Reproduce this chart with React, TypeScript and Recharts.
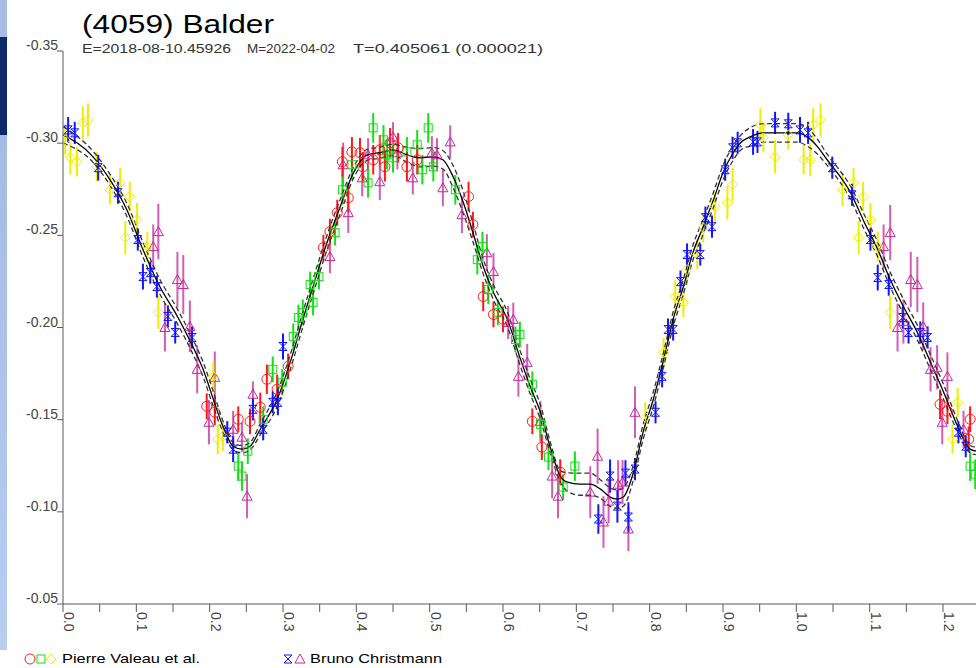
import React from 'react';
import { ComposedChart, Line, Scatter, ErrorBar, XAxis, YAxis } from 'recharts';

// [phase, reduced magnitude, error]
type Obs = [number, number, number];

const FONT = '"Liberation Sans", Arial, sans-serif';

const RED = '#ff1a1a';
const GREEN = '#14e014';
const YELLOW = '#eeee00';
const MAGENTA = '#c4279a';
const BLUE = '#1414ff';

const xTicks = [0, 0.05, 0.1, 0.15, 0.2, 0.25, 0.3, 0.35, 0.4, 0.45, 0.5, 0.55, 0.6, 0.65, 0.7, 0.75, 0.8, 0.85, 0.9, 0.95, 1.0, 1.05, 1.1, 1.15, 1.2];
const yTicks = [-0.35, -0.3, -0.25, -0.2, -0.15, -0.1, -0.05];

// Pierre Valeau et al. (three sessions)
const valeauCircles: Obs[] = [
  [0.196, -0.1573, 0.007], [0.207, -0.154, 0.007], [0.239, -0.1502, 0.007], [0.255, -0.1491, 0.007],
  [0.269, -0.1567, 0.008], [0.278, -0.1719, 0.008], [0.292, -0.1665, 0.008], [0.307, -0.1789, 0.007],
  [0.355, -0.2433, 0.007], [0.364, -0.252, 0.007], [0.374, -0.2623, 0.007], [0.381, -0.2899, 0.008],
  [0.389, -0.2704, 0.008], [0.394, -0.2953, 0.008], [0.405, -0.2948, 0.008], [0.409, -0.2872, 0.008],
  [0.423, -0.291, 0.008], [0.432, -0.2964, 0.008], [0.439, -0.2872, 0.008], [0.446, -0.3002, 0.008],
  [0.457, -0.2975, 0.008], [0.469, -0.2872, 0.008], [0.483, -0.291, 0.008], [0.553, -0.271, 0.008],
  [0.559, -0.2558, 0.007], [0.573, -0.2168, 0.008], [0.587, -0.2071, 0.007], [0.6, -0.2044, 0.007],
  [0.64, -0.1491, 0.007], [0.653, -0.1351, 0.007], [0.678, -0.1215, 0.007],
  [1.196, -0.1583, 0.008], [1.206, -0.1546, 0.007], [1.237, -0.1502, 0.007], [1.235, -0.1394, 0.007],
];

const valeauSquares: Obs[] = [
  [0.244, -0.1194, 0.008], [0.239, -0.1248, 0.008], [0.252, -0.1329, 0.007], [0.273, -0.1502, 0.007],
  [0.286, -0.1773, 0.007], [0.299, -0.1703, 0.007], [0.314, -0.1952, 0.007], [0.321, -0.2054, 0.007],
  [0.327, -0.2082, 0.007], [0.337, -0.2233, 0.007], [0.341, -0.2136, 0.007], [0.349, -0.2276, 0.007],
  [0.371, -0.2515, 0.007], [0.381, -0.2747, 0.008], [0.394, -0.2883, 0.008], [0.416, -0.2785, 0.008],
  [0.423, -0.3083, 0.008], [0.437, -0.3018, 0.008], [0.442, -0.2937, 0.008], [0.45, -0.2921, 0.008],
  [0.469, -0.2953, 0.008], [0.483, -0.2991, 0.008], [0.49, -0.2856, 0.008], [0.498, -0.3083, 0.008],
  [0.505, -0.2872, 0.008], [0.535, -0.2747, 0.008], [0.565, -0.2368, 0.008], [0.572, -0.2439, 0.008],
  [0.58, -0.2206, 0.008], [0.593, -0.2082, 0.007], [0.617, -0.1935, 0.007], [0.623, -0.1962, 0.007],
  [0.64, -0.1692, 0.007], [0.651, -0.1475, 0.007], [0.662, -0.1297, 0.007], [0.682, -0.1134, 0.007],
  [0.698, -0.1248, 0.008], [1.237, -0.1248, 0.008], [1.244, -0.1204, 0.008],
];

const valeauDiamonds: Obs[] = [
  [0.003, -0.3018, 0.008], [0.01, -0.2921, 0.009], [0.019, -0.2899, 0.008], [0.027, -0.311, 0.009],
  [0.034, -0.3126, 0.009], [0.046, -0.2872, 0.008], [0.064, -0.2747, 0.008], [0.078, -0.2785, 0.008],
  [0.091, -0.271, 0.008], [0.101, -0.2585, 0.009], [0.085, -0.2488, 0.009], [0.115, -0.2439, 0.008],
  [0.13, -0.2082, 0.009], [0.205, -0.1735, 0.008], [0.218, -0.141, 0.008], [0.211, -0.1394, 0.008],
  [0.794, -0.1513, 0.008], [0.819, -0.1865, 0.008], [0.835, -0.2168, 0.009], [0.846, -0.2136, 0.008],
  [0.851, -0.2314, 0.008], [0.865, -0.2396, 0.008], [0.873, -0.2542, 0.008], [0.889, -0.2655, 0.008],
  [0.906, -0.2677, 0.009], [0.913, -0.2775, 0.009], [0.951, -0.3099, 0.009], [0.955, -0.3029, 0.008],
  [0.971, -0.2926, 0.009], [0.989, -0.3045, 0.008], [1.01, -0.291, 0.008], [1.019, -0.291, 0.009],
  [1.023, -0.3099, 0.009], [1.033, -0.3126, 0.009], [1.063, -0.2747, 0.009], [1.078, -0.2785, 0.008],
  [1.091, -0.271, 0.008], [1.101, -0.2585, 0.009], [1.085, -0.2488, 0.009], [1.111, -0.2439, 0.008],
  [1.128, -0.2082, 0.009], [1.213, -0.1394, 0.008], [1.22, -0.1594, 0.008],
];

// Bruno Christmann (two sessions)
const christmannStars: Obs[] = [
  [0.007, -0.3072, 0.007], [0.016, -0.3056, 0.006], [0.048, -0.2867, 0.007], [0.075, -0.2731, 0.006],
  [0.102, -0.2477, 0.006], [0.109, -0.2276, 0.007], [0.119, -0.2298, 0.006], [0.128, -0.2222, 0.006],
  [0.143, -0.206, 0.006], [0.153, -0.1973, 0.006], [0.176, -0.1946, 0.006], [0.224, -0.1432, 0.006],
  [0.232, -0.134, 0.007], [0.259, -0.1556, 0.006], [0.273, -0.1448, 0.006], [0.286, -0.1594, 0.006],
  [0.293, -0.1594, 0.007], [0.3, -0.1897, 0.007],
  [0.73, -0.0961, 0.008], [0.746, -0.1194, 0.009], [0.756, -0.1031, 0.009], [0.767, -0.121, 0.007],
  [0.771, -0.0972, 0.008], [0.78, -0.1232, 0.006], [0.808, -0.154, 0.006], [0.817, -0.1735, 0.006],
  [0.825, -0.1989, 0.006], [0.832, -0.1989, 0.006], [0.842, -0.2249, 0.006], [0.851, -0.2396, 0.006],
  [0.869, -0.2396, 0.006], [0.876, -0.2596, 0.006], [0.885, -0.2547, 0.006], [0.903, -0.2856, 0.006],
  [0.913, -0.2975, 0.006], [0.92, -0.3002, 0.006], [0.941, -0.3007, 0.007], [0.947, -0.3007, 0.006],
  [0.971, -0.311, 0.006], [0.989, -0.3105, 0.006], [1.005, -0.3072, 0.007], [1.016, -0.3056, 0.006],
  [1.049, -0.2867, 0.006], [1.076, -0.272, 0.006], [1.101, -0.2477, 0.006], [1.111, -0.2271, 0.007],
  [1.126, -0.2233, 0.006], [1.145, -0.2054, 0.006], [1.153, -0.1973, 0.006], [1.169, -0.1973, 0.006],
  [1.179, -0.1946, 0.006], [1.221, -0.1432, 0.006], [1.231, -0.1356, 0.006],
];

const christmannTriangles: Obs[] = [
  [0.13, -0.252, 0.015], [0.123, -0.2439, 0.012], [0.156, -0.226, 0.015], [0.164, -0.2233, 0.016],
  [0.139, -0.2, 0.013], [0.173, -0.2006, 0.014], [0.183, -0.1773, 0.013], [0.207, -0.173, 0.014],
  [0.199, -0.1486, 0.012], [0.244, -0.1405, 0.008], [0.232, -0.1448, 0.01], [0.259, -0.1638, 0.007],
  [0.251, -0.1085, 0.012], [0.364, -0.2385, 0.009], [0.382, -0.2883, 0.012], [0.389, -0.2623, 0.011],
  [0.408, -0.2812, 0.01], [0.416, -0.2937, 0.009], [0.432, -0.2791, 0.01], [0.45, -0.3034, 0.008],
  [0.456, -0.2948, 0.009], [0.477, -0.2812, 0.009], [0.503, -0.2948, 0.009], [0.51, -0.2937, 0.009],
  [0.518, -0.2758, 0.01], [0.528, -0.3007, 0.009], [0.544, -0.2612, 0.01], [0.578, -0.2406, 0.01],
  [0.587, -0.2304, 0.01], [0.607, -0.2027, 0.009], [0.614, -0.2044, 0.009], [0.621, -0.1735, 0.011],
  [0.633, -0.1811, 0.01], [0.651, -0.1491, 0.011], [0.667, -0.1194, 0.012], [0.675, -0.1085, 0.012],
  [0.719, -0.1107, 0.014], [0.729, -0.1302, 0.015], [0.737, -0.0945, 0.014], [0.744, -0.1058, 0.012],
  [0.757, -0.115, 0.013], [0.763, -0.1161, 0.012], [0.771, -0.0907, 0.012], [0.78, -0.154, 0.014],
  [1.128, -0.2515, 0.015], [1.119, -0.2439, 0.012], [1.156, -0.226, 0.015], [1.165, -0.2233, 0.015],
  [1.138, -0.2, 0.013], [1.146, -0.2033, 0.012], [1.173, -0.2006, 0.013], [1.183, -0.1773, 0.012],
  [1.192, -0.1784, 0.012], [1.206, -0.1735, 0.013], [1.199, -0.1486, 0.012], [1.228, -0.1448, 0.01],
];

// Fourier fit and its uncertainty envelope
const fitPhase = [
  0, 0.041, 0.064, 0.087, 0.109, 0.132, 0.156, 0.177, 0.191, 0.205, 0.218, 0.232, 0.244, 0.255, 0.269,
  0.292, 0.314, 0.323, 0.341, 0.36, 0.378, 0.396, 0.415, 0.432, 0.45, 0.469, 0.487, 0.505, 0.518, 0.532,
  0.546, 0.559, 0.573, 0.587, 0.606, 0.623, 0.637, 0.651, 0.664, 0.678, 0.688, 0.705, 0.719, 0.733, 0.746,
  0.756, 0.764, 0.778, 0.791, 0.805, 0.819, 0.832, 0.846, 0.859, 0.873, 0.887, 0.9, 0.914, 0.924, 0.937,
  0.955, 0.978, 1.001, 1.015, 1.029, 1.042, 1.056, 1.074, 1.091, 1.111, 1.128, 1.146, 1.165, 1.183, 1.201,
  1.22, 1.237, 1.245,
];
const fitMag = [
  -0.3045, -0.2926, -0.2802, -0.2639, -0.2423, -0.2222, -0.206, -0.1897, -0.1773, -0.1611, -0.1464, -0.1356, -0.134, -0.1356, -0.1448,
  -0.1611, -0.1865, -0.1989, -0.2222, -0.2461, -0.2655, -0.2839, -0.2937, -0.2948, -0.2964, -0.2937, -0.2921, -0.2926, -0.291, -0.2818,
  -0.2677, -0.2515, -0.2331, -0.219, -0.2044, -0.1838, -0.1681, -0.154, -0.1356, -0.1194, -0.1161, -0.115, -0.115, -0.1123, -0.108,
  -0.1069, -0.108, -0.1215, -0.1432, -0.1611, -0.1827, -0.2044, -0.2222, -0.2406, -0.2547, -0.2693, -0.2839, -0.2948, -0.3002, -0.3034,
  -0.3056, -0.3056, -0.3056, -0.3034, -0.298, -0.291, -0.2839, -0.2731, -0.2585, -0.2423, -0.226, -0.2114, -0.1973, -0.1811, -0.1648,
  -0.1464, -0.134, -0.133,
];
const upperMag = [
  -0.309, -0.2956, -0.2832, -0.2674, -0.2463, -0.2262, -0.21, -0.1937, -0.1813, -0.1651, -0.1494, -0.1376, -0.136, -0.1376, -0.1478,
  -0.1651, -0.1905, -0.2029, -0.2262, -0.2501, -0.2695, -0.2869, -0.2967, -0.2978, -0.2994, -0.2977, -0.2971, -0.2976, -0.296, -0.2878,
  -0.2737, -0.2565, -0.2371, -0.223, -0.2084, -0.1878, -0.1721, -0.158, -0.1386, -0.1224, -0.1211, -0.121, -0.121, -0.1173, -0.113,
  -0.1119, -0.113, -0.1255, -0.1472, -0.1651, -0.1867, -0.2084, -0.2262, -0.2446, -0.2587, -0.2733, -0.2879, -0.2988, -0.3042, -0.3084,
  -0.3106, -0.3106, -0.3106, -0.3084, -0.302, -0.294, -0.2869, -0.2766, -0.2625, -0.2463, -0.23, -0.2154, -0.2013, -0.1851, -0.1688,
  -0.1494, -0.136, -0.135,
];
const lowerMag = [
  -0.3, -0.2896, -0.2772, -0.2604, -0.2383, -0.2182, -0.202, -0.1857, -0.1733, -0.1571, -0.1434, -0.1336, -0.132, -0.1336, -0.1418,
  -0.1571, -0.1825, -0.1949, -0.2182, -0.2421, -0.2615, -0.2809, -0.2907, -0.2918, -0.2934, -0.2897, -0.2871, -0.2876, -0.286, -0.2758,
  -0.2617, -0.2465, -0.2291, -0.215, -0.2004, -0.1798, -0.1641, -0.15, -0.1326, -0.1164, -0.1111, -0.109, -0.109, -0.1073, -0.103,
  -0.1019, -0.103, -0.1175, -0.1392, -0.1571, -0.1787, -0.2004, -0.2182, -0.2366, -0.2507, -0.2653, -0.2799, -0.2908, -0.2962, -0.2984,
  -0.3006, -0.3006, -0.3006, -0.2984, -0.294, -0.288, -0.2809, -0.2696, -0.2545, -0.2383, -0.222, -0.2074, -0.1933, -0.1771, -0.1608,
  -0.1434, -0.132, -0.131,
];

const toRows = (obs: Obs[]) => obs.map(([phase, mag, err]) => ({ phase, mag, err }));

const fitRows = fitPhase.map((phase, i) => ({
  phase,
  fit: fitMag[i],
  upper: upperMag[i],
  lower: lowerMag[i],
}));

// marker shapes
const CircleMark = ({ cx, cy }: any) => <circle cx={cx} cy={cy} r={5} fill="none" stroke={RED} strokeWidth={1} />;
const SquareMark = ({ cx, cy }: any) => (
  <rect x={cx - 4} y={cy - 4} width={8} height={8} fill="none" stroke={GREEN} strokeWidth={1} />
);
const DiamondMark = ({ cx, cy }: any) => (
  <path d={`M${cx},${cy - 5}L${cx + 5},${cy}L${cx},${cy + 5}L${cx - 5},${cy}Z`} fill="none" stroke={YELLOW} strokeWidth={1} />
);
const TriangleMark = ({ cx, cy }: any) => (
  <path d={`M${cx},${cy - 5}L${cx + 5},${cy + 4}L${cx - 5},${cy + 4}Z`} fill="none" stroke={MAGENTA} strokeWidth={1} />
);
const StarMark = ({ cx, cy }: any) => (
  <path d={`M${cx - 4},${cy - 4}H${cx + 4}L${cx - 4},${cy + 4}H${cx + 4}Z`} fill="none" stroke={BLUE} strokeWidth={1} />
);

const YTick = ({ x, y, payload }: any) => (
  <text x={x + 3} y={y - 1} textAnchor="end" fontSize={14} fill="#444" fontFamily={FONT}>
    {payload.value.toFixed(2)}
  </text>
);

const XTick = ({ x, y, payload }: any) => {
  const v = payload.value;
  if (Math.round(v * 100) % 10 !== 0) return <g />;
  return (
    <text transform={`translate(${x + 1},${y - 2}) rotate(90)`} fontSize={14} fill="#444" fontFamily={FONT}>
      {v.toFixed(1)}
    </text>
  );
};

export default function App() {
  return (
    <div style={{ position: 'absolute', left: 0, top: 0, width: 976, height: 668, background: '#fff', overflow: 'hidden' }}>
      {/* window edge on the left */}
      <div style={{ position: 'absolute', left: 0, top: 0, width: 7, height: 37, background: '#a7bde6' }} />
      <div style={{ position: 'absolute', left: 0, top: 37, width: 7, height: 98, background: '#0c2a6a' }} />
      <div style={{ position: 'absolute', left: 0, top: 135, width: 7, height: 515, background: 'linear-gradient(#a4bbe6, #b9cdef)' }} />

      <ComposedChart
        width={976}
        height={668}
        data={fitRows}
        margin={{ top: 51, right: 0, bottom: 0, left: 0 }}
        style={{ position: 'absolute', left: 0, top: 0 }}
      >
        <XAxis
          type="number"
          dataKey="phase"
          domain={[0, 1.245]}
          ticks={xTicks}
          allowDataOverflow
          height={64}
          tickSize={8}
          stroke="#5a5a5a"
          tick={<XTick />}
          interval={0}
        />
        <YAxis
          type="number"
          domain={[-0.35, -0.05]}
          reversed
          ticks={yTicks}
          allowDataOverflow
          width={63}
          tickSize={6}
          stroke="#5a5a5a"
          tick={<YTick />}
          interval={0}
        />

        <Scatter data={toRows(christmannTriangles)} dataKey="mag" shape={<TriangleMark />} isAnimationActive={false}>
          <ErrorBar dataKey="err" direction="y" width={0} stroke={MAGENTA} strokeWidth={2} strokeOpacity={0.75} />
        </Scatter>
        <Scatter data={toRows(valeauDiamonds)} dataKey="mag" shape={<DiamondMark />} isAnimationActive={false}>
          <ErrorBar dataKey="err" direction="y" width={0} stroke={YELLOW} strokeWidth={2} />
        </Scatter>
        <Scatter data={toRows(valeauSquares)} dataKey="mag" shape={<SquareMark />} isAnimationActive={false}>
          <ErrorBar dataKey="err" direction="y" width={0} stroke={GREEN} strokeWidth={2} />
        </Scatter>
        <Scatter data={toRows(valeauCircles)} dataKey="mag" shape={<CircleMark />} isAnimationActive={false}>
          <ErrorBar dataKey="err" direction="y" width={0} stroke={RED} strokeWidth={2} />
        </Scatter>
        <Scatter data={toRows(christmannStars)} dataKey="mag" shape={<StarMark />} isAnimationActive={false}>
          <ErrorBar dataKey="err" direction="y" width={0} stroke={BLUE} strokeWidth={2} />
        </Scatter>

        <Line dataKey="upper" type="monotone" stroke="#333" strokeWidth={1.3} strokeDasharray="5 3" dot={false} isAnimationActive={false} />
        <Line dataKey="lower" type="monotone" stroke="#333" strokeWidth={1.3} strokeDasharray="5 3" dot={false} isAnimationActive={false} />
        <Line dataKey="fit" type="monotone" stroke="#000" strokeWidth={1.3} dot={false} isAnimationActive={false} />
      </ComposedChart>

      <svg width={976} height={668} style={{ position: 'absolute', left: 0, top: 0, pointerEvents: 'none' }}>
        <text x={82} y={33} fontSize={25} fontFamily={FONT} fill="#000" textLength={192} lengthAdjust="spacingAndGlyphs">
          (4059) Balder
        </text>
        <g fontSize={13} fontFamily={FONT} fill="#333">
          <text x={82} y={53} textLength={149} lengthAdjust="spacingAndGlyphs">E=2018-08-10.45926</text>
          <text x={247} y={53} textLength={88} lengthAdjust="spacingAndGlyphs">M=2022-04-02</text>
          <text x={353} y={53} textLength={190} lengthAdjust="spacingAndGlyphs">T=0.405061 (0.000021)</text>
        </g>

        {/* legend along the bottom edge */}
        <CircleMark cx={30} cy={659} />
        <SquareMark cx={41} cy={659} />
        <DiamondMark cx={51} cy={659} />
        <text x={62} y={663} fontSize={13} fontFamily={FONT} fill="#000" textLength={138} lengthAdjust="spacingAndGlyphs">
          Pierre Valeau et al.
        </text>
        <StarMark cx={288} cy={659} />
        <TriangleMark cx={300} cy={659} />
        <text x={310} y={663} fontSize={13} fontFamily={FONT} fill="#000" textLength={132} lengthAdjust="spacingAndGlyphs">
          Bruno Christmann
        </text>
      </svg>
    </div>
  );
}
